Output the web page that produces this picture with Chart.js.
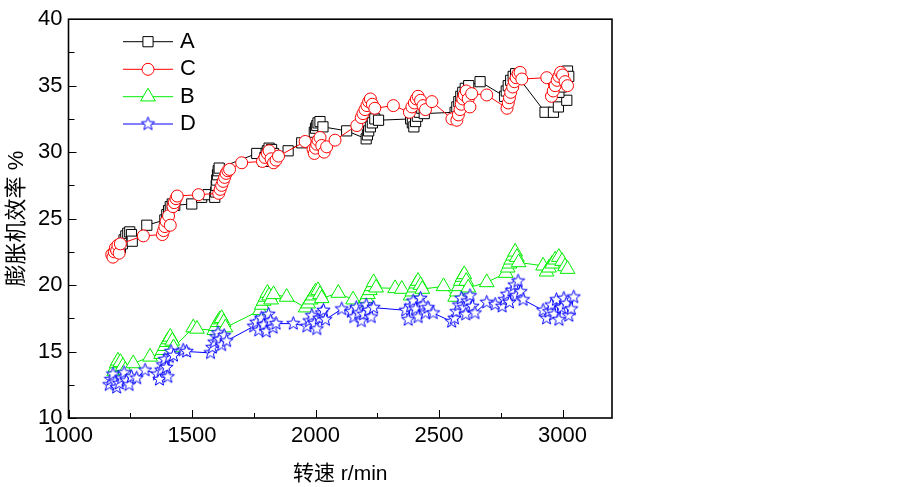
<!DOCTYPE html>
<html>
<head>
<meta charset="utf-8">
<script src="https://cdn.jsdelivr.net/npm/chart.js@4"></script>
<style>
html,body{margin:0;padding:0;background:#fff}
</style>
</head>
<body>
<canvas id="chart" width="903" height="487"></canvas>
<script>
// speed (r/min) and expander efficiency (%) for each series
const speedA = [1210,1218,1225,1232,1240,1248,1255,1258, 1317, 1390,1398,1405,1412,1420,1430, 1499,1539,1565,
  1592,1596,1598,1600,1603,1606,1610, 1762, 1790,1795,1800,1805,1812,1822,1830, 1889,1944,
  1995,2000,2005,2010,2018,2030, 2126, 2205,2210,2215,2222,2230,2240,2255,
  2385,2392,2398,2405,2412,2420,2430,2440, 2565,2572,2580,2588,2596,2606,2620, 2666,
  2765,2772,2780,2790,2800,2810, 2929,2963,2983,3017, 2985,2995,3000,3005,3012,3020,3025];
const effA = [22.8,23.1,23.4,23.7,23.9,24.0,23.8,23.3, 24.5, 24.9,25.3,25.6,25.9,26.1,26.0, 26.1,26.6,26.8,
  26.6,27.0,27.5,27.9,28.3,28.6,28.8, 29.9, 29.3,29.6,29.9,30.1,30.3,30.2,29.9, 30.1,30.7,
  31.5,31.8,32.0,32.2,32.3,31.9, 31.6, 31.0,31.3,31.6,31.9,32.2,32.5,32.4,
  32.5,32.2,31.9,32.3,32.7,33.0,33.3,32.9, 33.0,33.4,33.8,34.2,34.5,34.8,35.0, 35.3,
  34.2,34.6,35.0,35.4,35.7,35.9, 33.0,33.0,33.4,33.9, 34.5,34.9,35.3,35.6,35.9,36.1,35.7];

const speedC = [1175,1180,1185,1190,1195,1200,1205,1210, 1303,
  1380,1385,1390,1395,1405,1412,1423,1428,1435,1440, 1526,
  1608,1614,1620,1626,1632,1638,1645,1652, 1701,
  1785,1795,1805,1812,1820,1830,1840,1850, 1958,
  1990,1995,2000,2005,2010,2018,2025,2035,2045, 2079,2167,
  2185,2192,2200,2208,2215,2222,2230,2240, 2315,
  2380,2390,2400,2408,2415,2425,2435,2445, 2471,2552,
  2572,2578,2585,2590,2596,2602,2610,2618,2625,2632, 2693,
  2775,2780,2785,2790,2798,2805,2812,2820,2828,2835, 2936,
  2955,2962,2970,2978,2985,2992,3000,3010,3020];
const effC = [22.3,22.1,22.5,22.8,22.6,23.0,22.4,23.1, 23.7,
  23.8,24.1,24.4,24.8,25.2,24.5,25.9,26.2,26.5,26.7, 26.8,
  26.9,27.2,27.5,27.8,28.1,28.4,28.6,28.7, 29.2,
  29.3,29.6,29.9,30.1,29.5,29.2,29.4,29.7, 30.8,
  30.2,29.9,30.3,30.6,30.9,31.1,30.5,30.0,30.4, 30.9,32.0,
  32.6,32.9,33.2,33.5,33.8,34.0,33.6,33.3, 33.5,
  33.0,33.4,33.7,34.0,34.2,33.9,33.5,33.2, 33.8,32.5,
  32.4,32.8,33.2,33.6,34.0,34.3,34.6,34.0,33.4,34.4, 34.3,
  33.3,33.7,34.1,34.5,34.9,35.3,35.6,35.9,36.0,35.5, 35.6,
  34.2,34.6,35.0,35.4,35.7,36.0,35.8,35.3,35.0];

const speedB = [1185,1190,1195,1200,1210,1220,1230, 1262,1330,
  1375,1382,1390,1398,1405,1412,1420,1425, 1505,1520,
  1590,1597,1605,1612,1620,1628,1635,
  1775,1782,1790,1798,1805,1812,1820,1830, 1883,
  1960,1970,1980,1990,2000,2010,2018,2025, 2092,2152,
  2195,2205,2212,2220,2228,2235,2245, 2322,2349,
  2385,2392,2400,2408,2415,2425,2432, 2518,
  2565,2572,2580,2588,2595,2602,2610,2618, 2693,
  2770,2778,2785,2792,2800,2808,2815,2822, 2921,
  2935,2945,2958,2970,2985,2998,3010,3020];
const effB = [13.5,13.8,14.1,14.3,14.2,13.9,13.6, 14.1,14.6,
  14.8,15.1,15.4,15.7,15.9,16.1,15.8,15.3, 16.8,16.7,
  16.6,16.9,17.2,17.4,17.5,17.2,16.8,
  18.1,18.5,18.8,19.1,19.4,19.2,18.9,19.3, 19.1,
  18.3,18.6,18.9,19.2,19.5,19.6,19.3,19.0, 19.4,18.9,
  18.7,19.0,19.3,19.6,19.9,20.2,19.8, 19.75,19.7,
  19.2,19.5,19.8,20.1,20.3,20.0,19.7, 19.9,
  19.1,19.5,19.9,20.3,20.6,20.8,20.3,19.8, 20.2,
  20.9,21.3,21.6,21.9,22.2,22.5,22.1,21.7, 21.45,
  21.0,21.3,21.6,21.9,22.1,21.8,21.4,21.2];

const speedD = [1165,1172,1180,1188,1195,1205,1215,1225,1235,1245,1255, 1276,1310,
  1360,1368,1375,1382,1390,1396,1402,1408,1415,1425, 1464,1478,
  1575,1582,1590,1598,1605,1612,1620,1630,1640,
  1750,1760,1770,1780,1790,1800,1810,1818,1828,1840, 1910,
  1965,1975,1985,1995,2005,2015,2025,2032,2040, 2106,
  2145,2155,2165,2175,2185,2195,2205,2215,2225,2235,
  2365,2375,2385,2395,2405,2415,2425,2435,2445,2455, 2476,2551,
  2562,2570,2580,2590,2600,2608,2615,2625,2635,2645, 2693,2727,
  2755,2765,2775,2785,2795,2805,2812,2820,2830,2840, 2921,
  2935,2945,2955,2965,2975,2985,2995,3005,3015,3025,3035,3045];
const effD = [12.5,12.9,13.3,12.7,12.3,12.6,13.0,13.4,12.8,12.5,13.1, 13.0,13.6,
  13.3,12.9,13.6,14.0,14.4,13.8,13.1,14.6,15.0,14.7, 15.1,15.0,
  14.9,15.3,15.7,16.1,16.4,15.9,15.5,16.2,15.8,
  16.9,17.2,16.6,17.5,17.0,16.5,17.8,17.3,16.8,17.1, 17.1,
  16.9,17.3,17.7,17.1,16.7,17.5,17.9,18.1,17.4, 18.2,
  18.0,17.6,18.3,17.9,17.3,17.8,18.5,18.1,17.6,18.3,
  18.1,17.4,18.4,18.8,18.2,17.6,19.0,18.5,17.9,18.3, 17.9,17.25,
  17.5,18.0,18.5,19.0,18.3,17.8,18.8,19.2,18.4,17.9, 18.7,18.55,
  18.4,18.9,19.3,18.7,19.6,20.0,19.2,20.3,19.5,18.9, 18.1,
  17.5,18.0,18.5,17.8,18.9,17.4,18.3,19.0,18.6,17.7,18.2,19.1];

const xMajor = [1000,1500,2000,2500,3000];
const xMinor = [1250,1750,2250,2750];
const yMajor = [10,15,20,25,30,35,40];
const yMinor = [12.5,17.5,22.5,27.5,32.5,37.5];

const FONT = 'Arial, "Liberation Sans", "Noto Sans CJK SC", sans-serif';

function starImage(color, R) {
  const c = document.createElement('canvas');
  const s = Math.ceil(R * 2 + 3);
  c.width = s; c.height = s;
  const g = c.getContext('2d');
  g.beginPath();
  for (let i = 0; i < 10; i++) {
    const rr = i % 2 ? R * 0.42 : R;
    const a = -Math.PI / 2 + i * Math.PI / 5;
    g.lineTo(s / 2 + rr * Math.cos(a), s / 2 + rr * Math.sin(a));
  }
  g.closePath();
  g.fillStyle = '#fff'; g.fill();
  g.strokeStyle = color; g.lineWidth = 1; g.stroke();
  return c;
}
const star = starImage('#0000ff', 7);

function series(label, xs, ys, color, style, r, order) {
  return {
    label: label,
    data: xs.map((v, i) => ({x: v, y: ys[i]})),
    showLine: true,
    borderColor: color,
    borderWidth: 1,
    pointStyle: style,
    pointRadius: r,
    pointHoverRadius: r,
    pointBorderColor: color,
    pointBackgroundColor: '#fff',
    pointBorderWidth: 1,
    order: order
  };
}

// inward tick marks, frame, and an Origin-style legend
const decor = {
  id: 'decor',
  afterDraw(chart) {
    const {ctx, chartArea: a, scales: {x, y}} = chart;
    ctx.save();
    ctx.strokeStyle = '#000';
    ctx.lineWidth = 1;
    ctx.beginPath();
    xMajor.forEach(v => { const p = Math.round(x.getPixelForValue(v)) + 0.5; ctx.moveTo(p, a.bottom); ctx.lineTo(p, a.bottom - 8); });
    xMinor.forEach(v => { const p = Math.round(x.getPixelForValue(v)) + 0.5; ctx.moveTo(p, a.bottom); ctx.lineTo(p, a.bottom - 5); });
    yMajor.forEach(v => { const p = Math.round(y.getPixelForValue(v)) + 0.5; ctx.moveTo(a.left, p); ctx.lineTo(a.left + 8, p); });
    yMinor.forEach(v => { const p = Math.round(y.getPixelForValue(v)) + 0.5; ctx.moveTo(a.left, p); ctx.lineTo(a.left + 6, p); });
    ctx.stroke();
    ctx.lineWidth = 1.6;
    ctx.strokeRect(a.left, a.top, a.right - a.left, a.bottom - a.top);

    const rowsY = [41.7, 69.3, 96.7, 124];
    chart.data.datasets.forEach((d, i) => {
      const yy = rowsY[i];
      ctx.lineWidth = 1;
      ctx.strokeStyle = d.borderColor;
      ctx.beginPath(); ctx.moveTo(123, yy); ctx.lineTo(173, yy); ctx.stroke();
      const cx = 148, r = d.pointRadius;
      ctx.fillStyle = '#fff';
      ctx.beginPath();
      if (d.pointStyle === 'rect') {
        const h = r * Math.SQRT1_2;
        ctx.rect(cx - h, yy - h, 2 * h, 2 * h);
      } else if (d.pointStyle === 'circle') {
        ctx.arc(cx, yy, r, 0, Math.PI * 2);
      } else if (d.pointStyle === 'triangle') {
        ctx.moveTo(cx, yy - r);
        ctx.lineTo(cx + r * Math.sin(2 * Math.PI / 3), yy + r / 2);
        ctx.lineTo(cx - r * Math.sin(2 * Math.PI / 3), yy + r / 2);
        ctx.closePath();
      }
      if (typeof d.pointStyle === 'string') {
        ctx.fill(); ctx.stroke();
      } else {
        ctx.drawImage(d.pointStyle, cx - d.pointStyle.width / 2, yy - d.pointStyle.height / 2);
      }
      ctx.fillStyle = '#000';
      ctx.font = '22px ' + FONT;
      ctx.textBaseline = 'middle';
      ctx.textAlign = 'left';
      ctx.fillText(d.label, 180, yy);
    });
    ctx.restore();
  }
};

new Chart(document.getElementById('chart'), {
  type: 'scatter',
  data: {
    datasets: [
      series('A', speedA, effA, '#000000', 'rect', 7.2, 2),
      series('C', speedC, effC, '#ff0000', 'circle', 6, 1),
      series('B', speedB, effB, '#00ee00', 'triangle', 8.5, 4),
      series('D', speedD, effD, '#0000ff', star, 7, 3)
    ]
  },
  options: {
    responsive: false,
    animation: false,
    layout: {padding: {left: 0, right: 291, top: 14.5, bottom: 0}},
    plugins: {legend: {display: false}, tooltip: {enabled: false}},
    scales: {
      x: {
        type: 'linear',
        min: 1000,
        max: 3200,
        afterFit(s) { s.height = 69; },
        afterBuildTicks(s) { s.ticks = xMajor.map(v => ({value: v})); },
        grid: {display: false, drawTicks: false},
        border: {display: false},
        ticks: {autoSkip: false, maxRotation: 0, padding: 5, color: '#000',
          font: {family: FONT, size: 22}, callback: v => String(v)},
        title: {display: true, text: '转速 r/min', color: '#000',
          font: {family: FONT, size: 21}, padding: {top: 0, bottom: 0}}
      },
      y: {
        type: 'linear',
        min: 10,
        max: 40,
        afterFit(s) { s.width = 68.5; },
        afterBuildTicks(s) { s.ticks = yMajor.map(v => ({value: v})); },
        grid: {display: false, drawTicks: false},
        border: {display: false},
        ticks: {autoSkip: false, padding: 6, color: '#000', font: {family: FONT, size: 22},
          callback: v => String(v)},
        title: {display: true, text: '膨胀机效率 %', color: '#000',
          font: {family: FONT, size: 22}, padding: {top: 4, bottom: 0}}
      }
    }
  },
  plugins: [decor]
});
</script>
</body>
</html>
